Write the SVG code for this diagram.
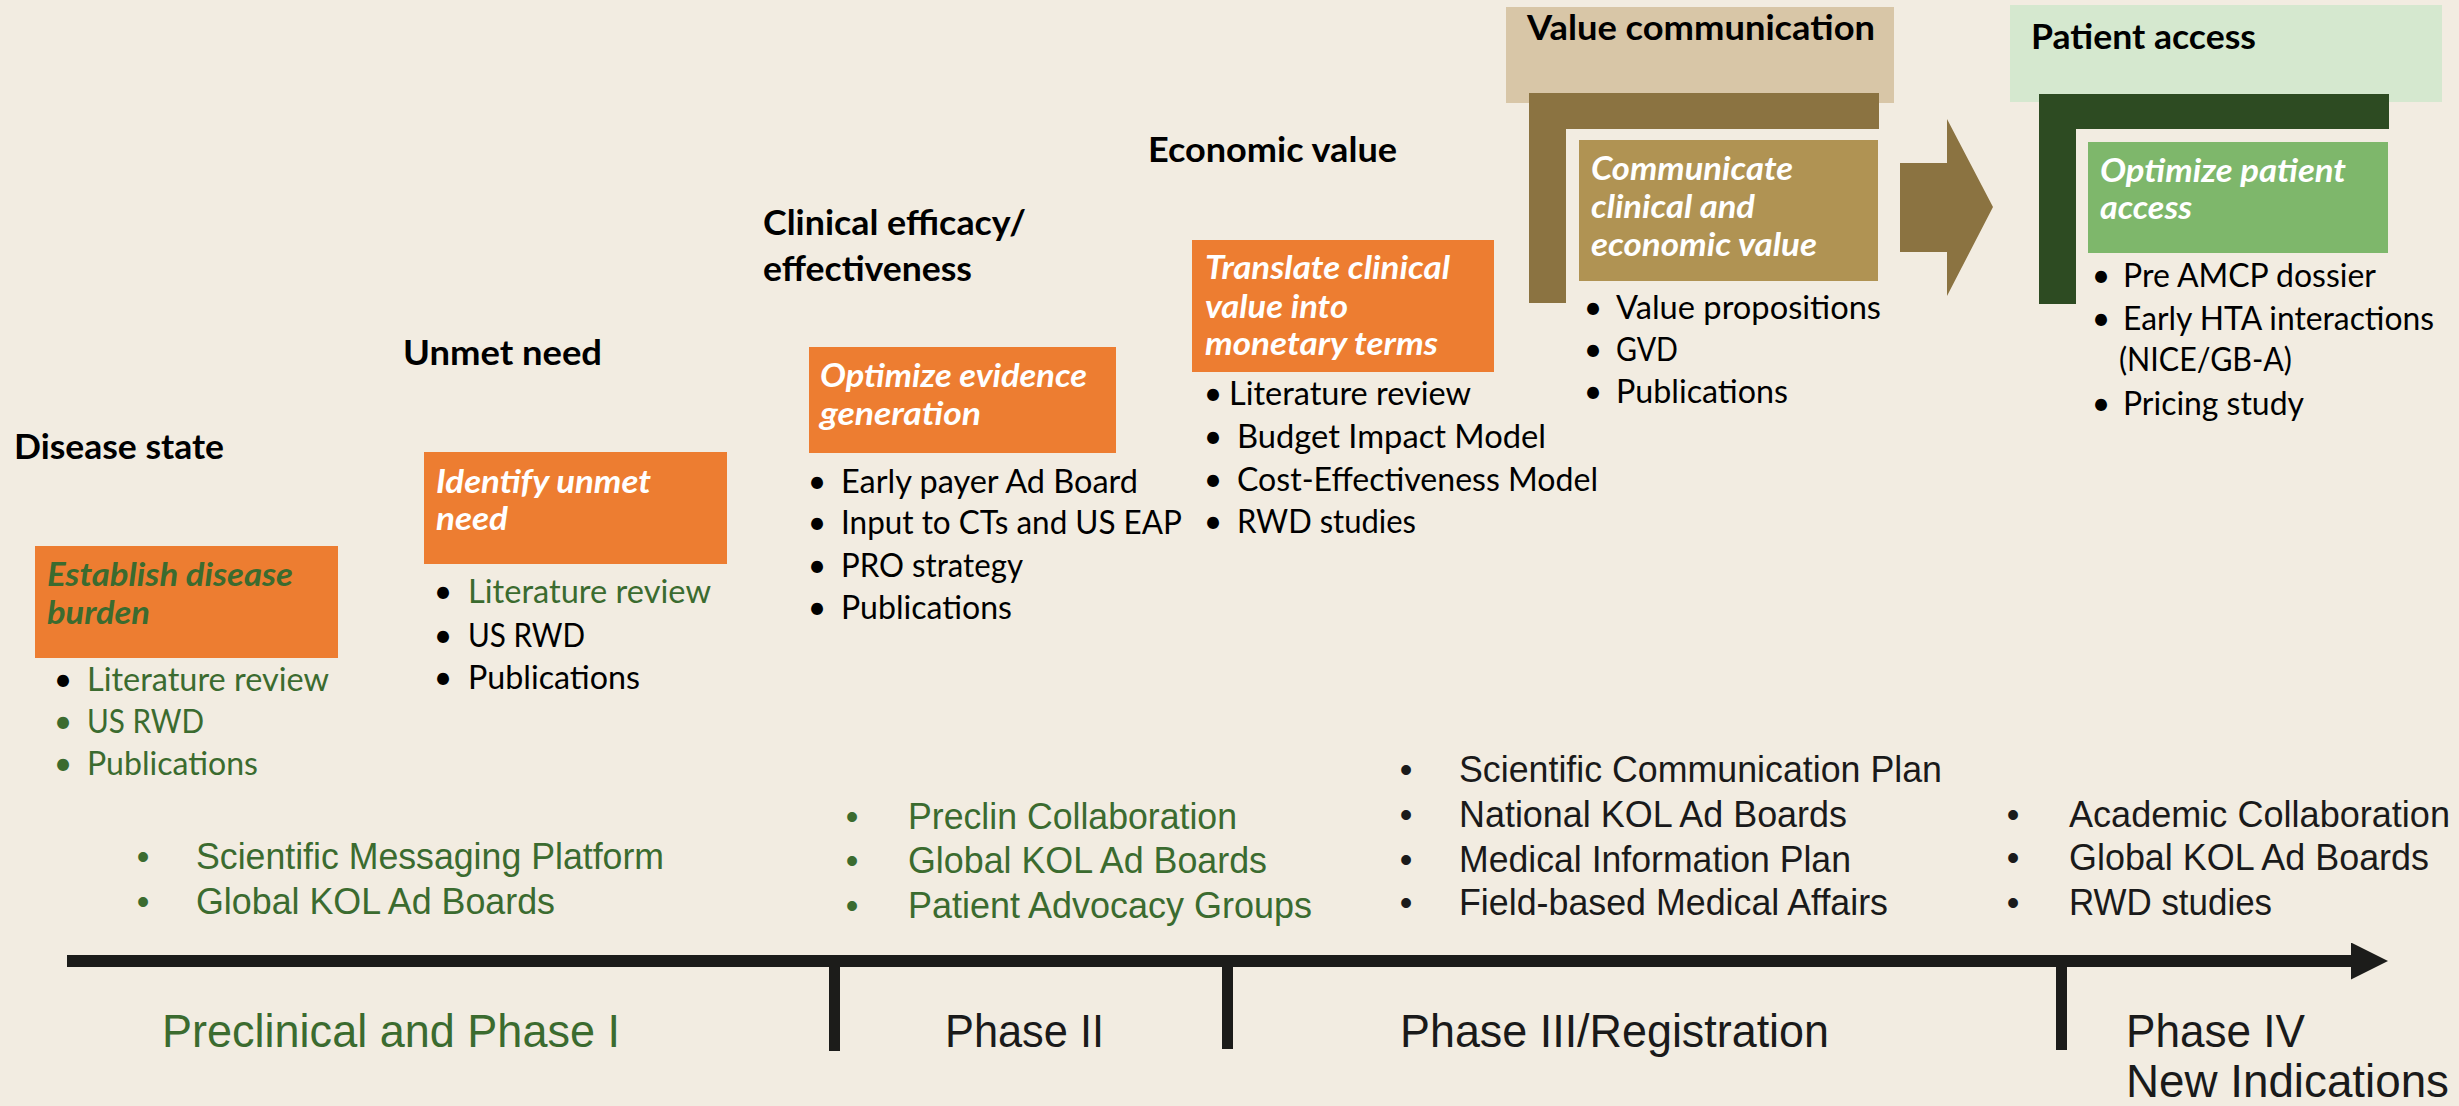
<svg xmlns="http://www.w3.org/2000/svg" width="2459" height="1106" viewBox="0 0 2459 1106">
  <style>
    .h { font-family: Lato, "Open Sans", sans-serif; font-weight: 700; font-size: 33.5px; fill: #000; }
    .bx { font-family: Lato, "Open Sans", sans-serif; font-weight: 700; font-style: italic; font-size: 31.5px; fill: #fff; }
    .li { font-family: Lato, "Open Sans", sans-serif; font-size: 32px; fill: #000; }
    .bu { font-family: Lato, "Open Sans", sans-serif; font-size: 32px; fill: #000; text-anchor: middle; }
    .ar { font-family: "Liberation Sans", Arial, sans-serif; font-size: 36px; fill: #1a1a1a; }
    .arb { font-family: "Liberation Sans", Arial, sans-serif; font-size: 36px; fill: #1a1a1a; text-anchor: middle; }
    .ph { font-family: "Liberation Sans", Arial, sans-serif; font-size: 46px; fill: #1a1a1a; }
    .g { fill: #3B6B2F; }
    .wg { fill: #3B6B2F; }
    .orange { fill: #ED7D31; }
    .bar { fill: #1c1c1a; }
  </style>
  <defs>
    <marker id="arrowhead" markerUnits="userSpaceOnUse" viewBox="0 0 37 37" markerWidth="37" markerHeight="37" refX="0" refY="18.5" orient="auto">
      <path d="M0,0 L37,18.5 L0,37 Z" fill="#1c1c1a"/>
    </marker>
  </defs>

  <rect width="2459" height="1106" fill="#F2ECE1"/>

  <!-- Stage 1: disease state -->
  <g id="disease-state">
    <text class="h" x="14" y="459" textLength="210" lengthAdjust="spacingAndGlyphs">Disease state</text>
    <rect class="orange" x="35" y="546" width="303" height="112"/>
    <text class="bx wg" x="47" y="586" textLength="246" lengthAdjust="spacingAndGlyphs">Establish disease</text>
    <text class="bx wg" x="47" y="624" textLength="103" lengthAdjust="spacingAndGlyphs">burden</text>
    <text class="bu" x="63" y="691">•</text>
    <text class="li g" x="87" y="691" textLength="242" lengthAdjust="spacingAndGlyphs">Literature review</text>
    <text class="bu g" x="63" y="733">•</text>
    <text class="li g" x="87" y="733" textLength="117" lengthAdjust="spacingAndGlyphs">US RWD</text>
    <text class="bu g" x="63" y="775">•</text>
    <text class="li g" x="87" y="775" textLength="171" lengthAdjust="spacingAndGlyphs">Publications</text>
  </g>

  <!-- Stage 2: unmet need -->
  <g id="unmet-need">
    <text class="h" x="403" y="365" textLength="199" lengthAdjust="spacingAndGlyphs">Unmet need</text>
    <rect class="orange" x="424" y="452" width="303" height="112"/>
    <text class="bx" x="436" y="493" textLength="215" lengthAdjust="spacingAndGlyphs">Identify unmet</text>
    <text class="bx" x="436" y="530" textLength="72" lengthAdjust="spacingAndGlyphs">need</text>
    <text class="bu" x="443" y="603">•</text>
    <text class="li g" x="468" y="603" textLength="243" lengthAdjust="spacingAndGlyphs">Literature review</text>
    <text class="bu" x="443" y="647">•</text>
    <text class="li" x="468" y="647" textLength="117" lengthAdjust="spacingAndGlyphs">US RWD</text>
    <text class="bu" x="443" y="689">•</text>
    <text class="li" x="468" y="689" textLength="172" lengthAdjust="spacingAndGlyphs">Publications</text>
  </g>

  <!-- Stage 3: clinical efficacy -->
  <g id="clinical-efficacy">
    <text class="h" x="763" y="235" textLength="263" lengthAdjust="spacingAndGlyphs">Clinical efficacy/</text>
    <text class="h" x="763" y="281" textLength="209" lengthAdjust="spacingAndGlyphs">effectiveness</text>
    <rect class="orange" x="809" y="347" width="307" height="106"/>
    <text class="bx" x="820" y="387" textLength="267" lengthAdjust="spacingAndGlyphs">Optimize evidence</text>
    <text class="bx" x="820" y="425" textLength="161" lengthAdjust="spacingAndGlyphs">generation</text>
    <text class="bu" x="817" y="493">•</text>
    <text class="li" x="841" y="493" textLength="297" lengthAdjust="spacingAndGlyphs">Early payer Ad Board</text>
    <text class="bu" x="817" y="534">•</text>
    <text class="li" x="841" y="534" textLength="341" lengthAdjust="spacingAndGlyphs">Input to CTs and US EAP</text>
    <text class="bu" x="817" y="577">•</text>
    <text class="li" x="841" y="577" textLength="182" lengthAdjust="spacingAndGlyphs">PRO strategy</text>
    <text class="bu" x="817" y="619">•</text>
    <text class="li" x="841" y="619" textLength="171" lengthAdjust="spacingAndGlyphs">Publications</text>
  </g>

  <!-- Stage 4: economic value -->
  <g id="economic-value">
    <text class="h" x="1148" y="162" textLength="249" lengthAdjust="spacingAndGlyphs">Economic value</text>
    <rect class="orange" x="1192" y="240" width="302" height="132"/>
    <text class="bx" x="1205" y="279" textLength="245" lengthAdjust="spacingAndGlyphs">Translate clinical</text>
    <text class="bx" x="1205" y="318" textLength="143" lengthAdjust="spacingAndGlyphs">value into</text>
    <text class="bx" x="1205" y="355" textLength="233" lengthAdjust="spacingAndGlyphs">monetary terms</text>
    <text class="bu" x="1213" y="405">•</text>
    <text class="li" x="1229" y="405" textLength="242" lengthAdjust="spacingAndGlyphs">Literature review</text>
    <text class="bu" x="1213" y="448">•</text>
    <text class="li" x="1237" y="448" textLength="309" lengthAdjust="spacingAndGlyphs">Budget Impact Model</text>
    <text class="bu" x="1213" y="491">•</text>
    <text class="li" x="1237" y="491" textLength="361" lengthAdjust="spacingAndGlyphs">Cost-Effectiveness Model</text>
    <text class="bu" x="1213" y="533">•</text>
    <text class="li" x="1237" y="533" textLength="179" lengthAdjust="spacingAndGlyphs">RWD studies</text>
  </g>

  <!-- Stage 5: value communication -->
  <g id="value-communication">
    <rect x="1506" y="7" width="388" height="96" fill="#D8C6A7"/>
    <text class="h" x="1527" y="40" textLength="348" lengthAdjust="spacingAndGlyphs">Value communication</text>
    <path d="M1529,93 H1879 V129 H1566 V303 H1529 Z" fill="#8B7341"/>
    <rect x="1579" y="140" width="299" height="141" fill="#B09353"/>
    <text class="bx" x="1591" y="180" textLength="202" lengthAdjust="spacingAndGlyphs">Communicate</text>
    <text class="bx" x="1591" y="218" textLength="164" lengthAdjust="spacingAndGlyphs">clinical and</text>
    <text class="bx" x="1591" y="256" textLength="226" lengthAdjust="spacingAndGlyphs">economic value</text>
    <text class="bu" x="1593" y="319">•</text>
    <text class="li" x="1616" y="319" textLength="265" lengthAdjust="spacingAndGlyphs">Value propositions</text>
    <text class="bu" x="1593" y="361">•</text>
    <text class="li" x="1616" y="361" textLength="62" lengthAdjust="spacingAndGlyphs">GVD</text>
    <text class="bu" x="1593" y="403">•</text>
    <text class="li" x="1616" y="403" textLength="172" lengthAdjust="spacingAndGlyphs">Publications</text>
  </g>

  <!-- Stage 6: patient access -->
  <g id="patient-access">
    <rect x="2010" y="5" width="432" height="97" fill="#D5E8CF"/>
    <text class="h" x="2031" y="49" textLength="225" lengthAdjust="spacingAndGlyphs">Patient access</text>
    <path d="M2039,94 H2389 V129 H2076 V304 H2039 Z" fill="#2D4B22"/>
    <rect x="2088" y="142" width="300" height="111" fill="#7EB76B"/>
    <text class="bx" x="2100" y="182" textLength="246" lengthAdjust="spacingAndGlyphs">Optimize patient</text>
    <text class="bx" x="2100" y="219" textLength="92" lengthAdjust="spacingAndGlyphs">access</text>
    <text class="bu" x="2101" y="287">•</text>
    <text class="li" x="2123" y="287" textLength="253" lengthAdjust="spacingAndGlyphs">Pre AMCP dossier</text>
    <text class="bu" x="2101" y="330">•</text>
    <text class="li" x="2123" y="330" textLength="311" lengthAdjust="spacingAndGlyphs">Early HTA interactions</text>
    <text class="li" x="2119" y="371" textLength="173" lengthAdjust="spacingAndGlyphs">(NICE/GB-A)</text>
    <text class="bu" x="2101" y="415">•</text>
    <text class="li" x="2123" y="415" textLength="181" lengthAdjust="spacingAndGlyphs">Pricing study</text>
  </g>

  <!-- Medical affairs activities above the timeline -->
  <g id="activities-preclinical">
    <text class="arb g" x="143" y="869">•</text>
    <text class="ar g" x="196" y="869" textLength="468" lengthAdjust="spacingAndGlyphs">Scientific Messaging Platform</text>
    <text class="arb g" x="143" y="914">•</text>
    <text class="ar g" x="196" y="914" textLength="359" lengthAdjust="spacingAndGlyphs">Global KOL Ad Boards</text>
  </g>
  <g id="activities-phase2">
    <text class="arb g" x="852" y="829">•</text>
    <text class="ar g" x="908" y="829" textLength="329" lengthAdjust="spacingAndGlyphs">Preclin Collaboration</text>
    <text class="arb g" x="852" y="873">•</text>
    <text class="ar g" x="908" y="873" textLength="359" lengthAdjust="spacingAndGlyphs">Global KOL Ad Boards</text>
    <text class="arb g" x="852" y="918">•</text>
    <text class="ar g" x="908" y="918" textLength="404" lengthAdjust="spacingAndGlyphs">Patient Advocacy Groups</text>
  </g>
  <g id="activities-phase3">
    <text class="arb" x="1406" y="782">•</text>
    <text class="ar" x="1459" y="782" textLength="483" lengthAdjust="spacingAndGlyphs">Scientific Communication Plan</text>
    <text class="arb" x="1406" y="827">•</text>
    <text class="ar" x="1459" y="827" textLength="388" lengthAdjust="spacingAndGlyphs">National KOL Ad Boards</text>
    <text class="arb" x="1406" y="872">•</text>
    <text class="ar" x="1459" y="872" textLength="392" lengthAdjust="spacingAndGlyphs">Medical Information Plan</text>
    <text class="arb" x="1406" y="915">•</text>
    <text class="ar" x="1459" y="915" textLength="429" lengthAdjust="spacingAndGlyphs">Field-based Medical Affairs</text>
  </g>
  <g id="activities-phase4">
    <text class="arb" x="2013" y="827">•</text>
    <text class="ar" x="2069" y="827" textLength="381" lengthAdjust="spacingAndGlyphs">Academic Collaboration</text>
    <text class="arb" x="2013" y="870">•</text>
    <text class="ar" x="2069" y="870" textLength="360" lengthAdjust="spacingAndGlyphs">Global KOL Ad Boards</text>
    <text class="arb" x="2013" y="915">•</text>
    <text class="ar" x="2069" y="915" textLength="203" lengthAdjust="spacingAndGlyphs">RWD studies</text>
  </g>

  <!-- Phase labels below the timeline -->
  <g id="phases">
    <text class="ph g" x="162" y="1047" textLength="458" lengthAdjust="spacingAndGlyphs">Preclinical and Phase I</text>
    <text class="ph" x="945" y="1047" textLength="159" lengthAdjust="spacingAndGlyphs">Phase II</text>
    <text class="ph" x="1400" y="1047" textLength="429" lengthAdjust="spacingAndGlyphs">Phase III/Registration</text>
    <text class="ph" x="2126" y="1047" textLength="179" lengthAdjust="spacingAndGlyphs">Phase IV</text>
    <text class="ph" x="2126" y="1097" textLength="323" lengthAdjust="spacingAndGlyphs">New Indications</text>
  </g>

  <!-- Connectors: stage arrow and development timeline -->
  <g id="connectors">
    <path d="M1900,163 H1947 V119 L1993,207 L1947,296 V252 H1900 Z" fill="#8B7341"/>
    <line x1="67" y1="961" x2="2351" y2="961" stroke="#1c1c1a" stroke-width="12" marker-end="url(#arrowhead)"/>
    <rect class="bar" x="829" y="961" width="11" height="90"/>
    <rect class="bar" x="1222" y="961" width="11" height="88"/>
    <rect class="bar" x="2056" y="961" width="11" height="89"/>
  </g>
</svg>
